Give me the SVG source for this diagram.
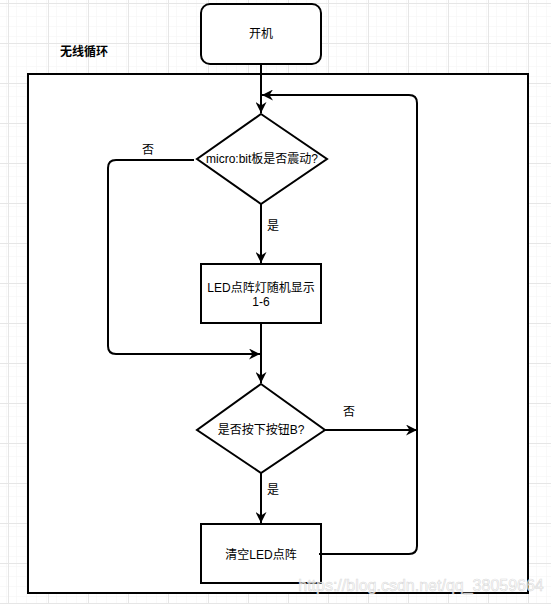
<svg xmlns="http://www.w3.org/2000/svg" width="551" height="604" viewBox="0 0 551 604">
  <defs>
    <pattern id="minor" x="8" y="3" width="10" height="10" patternUnits="userSpaceOnUse">
      <path d="M0,0 H10 M0,0 V10" stroke="#f3f3f3" stroke-width="1" fill="none"/>
    </pattern>
    <pattern id="major" x="8" y="3" width="40" height="40" patternUnits="userSpaceOnUse">
      <rect width="40" height="40" fill="url(#minor)"/>
      <path d="M0,0.5 H40 M0.5,0 V40" stroke="#e6e6e6" stroke-width="1" fill="none"/>
    </pattern>
    <marker id="arr" viewBox="0 0 11 11" refX="11" refY="5.5" markerWidth="11" markerHeight="11" markerUnits="userSpaceOnUse" orient="auto">
      <path d="M0,0 L11,5.5 L0,11 L3.5,5.5 Z" fill="#000"/>
    </marker>
    <style>
      .shape { fill: #fff; stroke: #000; stroke-width: 2; }
      .edge { fill: none; stroke: #000; stroke-width: 2; marker-end: url(#arr); }
      .edge2 { fill: none; stroke: #000; stroke-width: 2; }
      text { font-family: "Liberation Sans", "Noto Sans CJK SC", sans-serif; font-size: 12px; fill: #000; text-anchor: middle; dominant-baseline: central; }
    </style>
  </defs>
  <rect width="551" height="604" fill="#fff"/>
  <rect width="551" height="604" fill="url(#major)"/>

  <g id="container">
    <rect class="shape" x="28" y="74" width="500" height="519" stroke-width="2.5"/>
    <text x="84" y="52" font-weight="bold">无线循环</text>
  </g>

  <g id="start">
    <rect class="shape" x="201" y="4" width="120" height="60" rx="9"/>
    <text x="261" y="34">开机</text>
  </g>

  <g id="decision1">
    <polygon class="shape" points="261,114 327,159 261,204 197,159"/>
    <text x="262" y="159">micro:bit板是否震动?</text>
  </g>

  <g id="show">
    <rect class="shape" x="201" y="264" width="120" height="59"/>
    <text x="261" y="288">LED点阵灯随机显示</text>
    <text x="261" y="302">1-6</text>
  </g>

  <g id="decision2">
    <polygon class="shape" points="261,384 325,430 261,473 197,430"/>
    <text x="261" y="430">是否按下按钮B?</text>
  </g>

  <g id="clear">
    <rect class="shape" x="201" y="524" width="120" height="59"/>
    <text x="261" y="555">清空LED点阵</text>
  </g>

  <g id="connectors">
    <path class="edge" d="M261,64 V113"/>
    <path class="edge" d="M319,554 H409 Q417,554 417,546 V103 Q417,95 409,95 H262"/>
    <path class="edge" d="M261,204 V263"/>
    <path class="edge" d="M194,160 H116 Q108,160 108,168 V346 Q108,354 116,354 H260"/>
    <path class="edge2" d="M261,323 V354"/>
    <path class="edge" d="M261,354 V383"/>
    <path class="edge" d="M325,430 H417"/>
    <path class="edge" d="M261,473 V523"/>
    <text x="148" y="150">否</text>
    <text x="273" y="226">是</text>
    <text x="349" y="412">否</text>
    <text x="273" y="490">是</text>
  </g>

  <text x="421" y="585" style="font-size:16px; fill:#fff; fill-opacity:0.75; stroke:#cfcfcf; stroke-width:0.6; stroke-opacity:0.8;">https://blog.csdn.net/qq_38059664</text>
</svg>
